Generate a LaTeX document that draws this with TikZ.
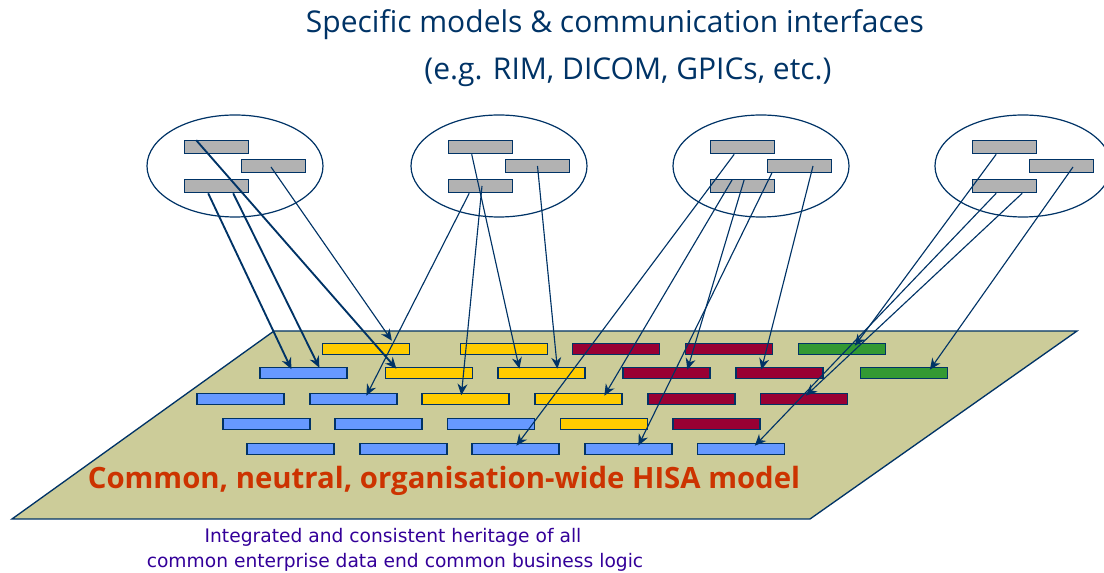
\documentclass[tikz,border=0pt]{standalone}
\usepackage{fontspec}
\usepackage{tikz}
\usetikzlibrary{calc}
\usetikzlibrary{shapes.geometric}
\usetikzlibrary{arrows.meta}
\newfontfamily\titlefont{Open Sans}
\newfontfamily\notefont{DejaVu Sans}
\definecolor{linkblue}{RGB}{0,51,102}
\definecolor{planekhaki}{RGB}{204,204,153}
\definecolor{ifacegray}{RGB}{178,178,178}
\definecolor{hisayellow}{RGB}{255,204,0}
\definecolor{hisared}{RGB}{153,0,51}
\definecolor{hisagreen}{RGB}{51,153,51}
\definecolor{hisablue}{RGB}{102,153,255}
\definecolor{modelred}{RGB}{204,51,0}
\definecolor{notepurple}{RGB}{51,0,153}
\tikzset{every picture/.style={line width=0.75pt}}
\tikzset{
  hisaplane/.style={draw=linkblue, fill=planekhaki, line width=1pt},
  modelgroup/.style={ellipse, draw=linkblue, line width=0.9pt, minimum width=132pt, minimum height=76.5pt, inner sep=0pt},
  iface/.style={rectangle, draw=linkblue, fill=ifacegray, line width=1.2pt, minimum width=48pt, minimum height=9.75pt, inner sep=0pt},
  entity/.style={rectangle, draw=linkblue, line width=1.2pt, minimum width=65pt, minimum height=8.25pt, inner sep=0pt},
  maplink/.style={draw=linkblue, line width=0.85pt, -{Stealth[length=8.5pt,width=7.5pt]}},
  heavylink/.style={maplink, line width=1.4pt},
}

\begin{document}
\begin{tikzpicture}[x=0.75pt,y=0.75pt,yscale=-1,xscale=1]
\useasboundingbox (0,0) rectangle (1104,573);

%Shape: Parallelogram [id:hisa plane]
\draw [hisaplane] (274,331) -- (1077,331) -- (810,519) -- (12,519) -- cycle ;

%Shape: Rectangles row 1
\node [entity, fill=hisayellow] (y11) at (366,349) {};
\node [entity, fill=hisayellow] (y12) at (504,349) {};
\node [entity, fill=hisared] (r11) at (616,349) {};
\node [entity, fill=hisared] (r12) at (729,349) {};
\node [entity, fill=hisagreen] (g11) at (842,349) {};
%Shape: Rectangles row 2
\node [entity, fill=hisablue] (b21) at (303.5,373) {};
\node [entity, fill=hisayellow] (y21) at (429,373) {};
\node [entity, fill=hisayellow] (y22) at (541.5,373) {};
\node [entity, fill=hisared] (r21) at (666.5,373) {};
\node [entity, fill=hisared] (r22) at (779.5,373) {};
\node [entity, fill=hisagreen] (g21) at (904,373) {};
%Shape: Rectangles row 3
\node [entity, fill=hisablue] (b31) at (240.5,399) {};
\node [entity, fill=hisablue] (b32) at (353.5,399) {};
\node [entity, fill=hisayellow] (y31) at (465.5,399) {};
\node [entity, fill=hisayellow] (y32) at (578.5,399) {};
\node [entity, fill=hisared] (r31) at (691.5,399) {};
\node [entity, fill=hisared] (r32) at (804,399) {};
%Shape: Rectangles row 4
\node [entity, fill=hisablue] (b41) at (266.5,424) {};
\node [entity, fill=hisablue] (b42) at (378.5,424) {};
\node [entity, fill=hisablue] (b43) at (491,424) {};
\node [entity, fill=hisayellow] (y41) at (604,424) {};
\node [entity, fill=hisared] (r41) at (716.5,424) {};
%Shape: Rectangles row 5
\node [entity, fill=hisablue] (b51) at (290.5,449) {};
\node [entity, fill=hisablue] (b52) at (403.5,449) {};
\node [entity, fill=hisablue] (b53) at (515.5,449) {};
\node [entity, fill=hisablue] (b54) at (628.5,449) {};
\node [entity, fill=hisablue] (b55) at (741,449) {};

%Shape: Ellipse [id:group 1..4]
\node [modelgroup] (e1) at (235,166) {};
\node [modelgroup] (e2) at (499,166) {};
\node [modelgroup] (e3) at (761,166) {};
\node [modelgroup] (e4) at (1023,166) {};

%Shape: Rectangles in the groups
\node [iface] (a1) at (216.5,147) {};
\node [iface] (m1) at (273.5,166) {};
\node [iface] (c1) at (216.5,186) {};
\node [iface] (a2) at (480.5,147) {};
\node [iface] (m2) at (537.5,166) {};
\node [iface] (c2) at (480.5,186) {};
\node [iface] (a3) at (742.5,147) {};
\node [iface] (m3) at (799.5,166) {};
\node [iface] (c3) at (742.5,186) {};
\node [iface] (a4) at (1004.5,147) {};
\node [iface] (m4) at (1061.5,166) {};
\node [iface] (c4) at (1004.5,186) {};

%Straight Lines [id:group 1]
\draw [heavylink] ($(a1.north west)+(12.5,0.5)$) -- ($(y21.north west)+(11.5,2)$) ;
\draw [maplink] ($(m1.center)+(-2.5,1)$) -- ($(y11.north west)+(70,-2)$) ;
\draw [heavylink] ($(c1.south west)+(24.5,0)$) -- ($(b21.north west)+(32,2.5)$) ;
\draw [heavylink] ($(c1.south west)+(49.5,0)$) -- ($(b21.north west)+(60,1)$) ;
%Straight Lines [id:group 2]
\draw [maplink] ($(c2.south west)+(21.5,0)$) -- ($(b32.north west)+(57,3)$) ;
\draw [maplink] ($(c2.center)+(1.5,0)$) -- ($(y31.north west)+(40,2.5)$) ;
\draw [maplink] ($(a2.south west)+(24,0)$) -- ($(y22.north west)+(22,2)$) ;
\draw [maplink] (m2.center) -- ($(y22.north west)+(60,2)$) ;
%Straight Lines [id:group 3]
\draw [maplink] ($(a3.south west)+(24.5,0)$) -- ($(b53.north west)+(45,3)$) ;
\draw [maplink] ($(c3.north west)+(22.5,1)$) -- ($(y32.north west)+(70,3)$) ;
\draw [maplink] ($(c3.north west)+(34.5,1)$) -- ($(r21.north west)+(65,3)$) ;
\draw [maplink] ($(m3.south west)+(5.5,-1)$) -- ($(b54.north west)+(54,3)$) ;
\draw [maplink] ($(m3.center)+(13.5,0)$) -- ($(r22.north west)+(26,3)$) ;
%Straight Lines [id:group 4]
\draw [maplink] ($(a4.south west)+(24.5,0)$) -- ($(g11.north west)+(57,3)$) ;
\draw [maplink] ($(c4.south west)+(24.5,0)$) -- ($(b55.north west)+(58,3)$) ;
\draw [maplink] ($(c4.south west)+(50.5,0)$) -- ($(r32.north west)+(46,3)$) ;
\draw [maplink] ($(m4.center)+(11.5,1)$) -- ($(g21.north west)+(70,3)$) ;

% Text Node
\node [anchor=base, font=\titlefont\fontsize{22.5}{26}\selectfont, text=linkblue] (title1) at (615,33) {Specific models \& communication interfaces};
% Text Node
\node [anchor=base, font=\titlefont\fontsize{22.5}{26}\selectfont, text=linkblue] (title2) at (628,80) {(e.g. RIM, DICOM, GPICs, etc.)};
% Text Node
\node [anchor=base, font=\titlefont\bfseries\fontsize{22}{26}\selectfont, text=modelred] (hisa) at (444,489) {Common, neutral, organisation-wide HISA model};
% Text Node
\node [anchor=base, font=\notefont\fontsize{14}{17}\selectfont, text=notepurple] (note1) at (393,542) {Integrated and consistent heritage of all};
% Text Node
\node [anchor=base, font=\notefont\fontsize{14}{17}\selectfont, text=notepurple] (note2) at (395,568) {common enterprise data end common business logic};

\end{tikzpicture}
\end{document}
